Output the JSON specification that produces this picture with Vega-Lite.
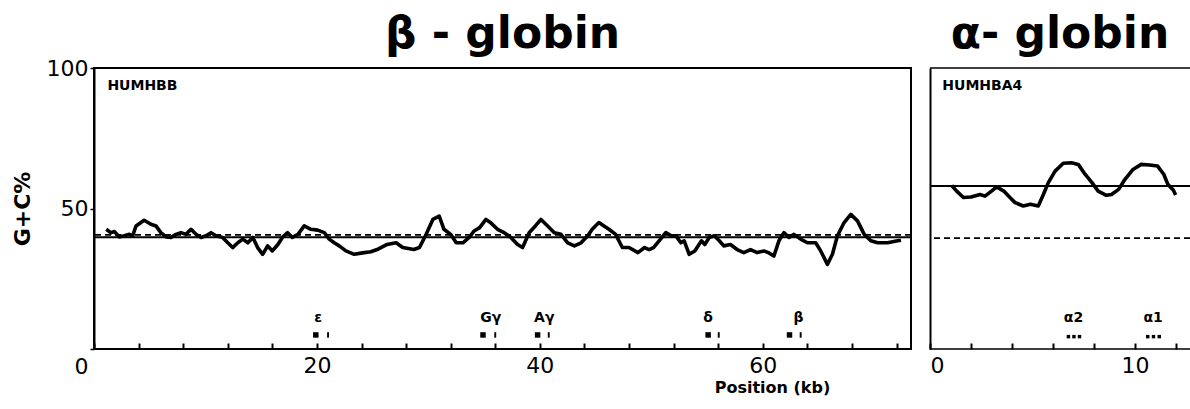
{
  "$schema": "https://vega.github.io/schema/vega-lite/v6.json",
  "padding": {"left": 10, "top": 12, "right": 0, "bottom": 0},
  "background": "white",
  "spacing": 16,
  "config": {
    "font": "DejaVu Sans",
    "view": {"stroke": "black", "strokeWidth": 2},
    "title": {"font": "DejaVu Sans", "fontSize": 44, "fontWeight": "bold", "color": "black", "anchor": "middle", "baseline": "alphabetic"},
    "axis": {"grid": false, "domainColor": "black", "domainWidth": 2, "tickColor": "black", "labelColor": "black", "titleColor": "black", "labelFont": "DejaVu Sans", "titleFont": "DejaVu Sans"}
  },
  "datasets": {
    "hbb": [
      {"kb": 1.1, "gc": 42.6}, {"kb": 1.5, "gc": 41.4}, {"kb": 1.82, "gc": 41.8}, {"kb": 2.27, "gc": 39.9},
      {"kb": 2.72, "gc": 40.3}, {"kb": 3.17, "gc": 40.8}, {"kb": 3.47, "gc": 40.3}, {"kb": 3.77, "gc": 43.8},
      {"kb": 4.5, "gc": 45.8}, {"kb": 5.11, "gc": 44.4}, {"kb": 5.56, "gc": 43.8}, {"kb": 6.0, "gc": 41.4},
      {"kb": 6.46, "gc": 39.9}, {"kb": 6.9, "gc": 39.7}, {"kb": 7.35, "gc": 40.8}, {"kb": 7.8, "gc": 41.4},
      {"kb": 8.25, "gc": 40.8}, {"kb": 8.7, "gc": 42.6}, {"kb": 9.15, "gc": 40.8}, {"kb": 9.6, "gc": 39.7},
      {"kb": 10.05, "gc": 40.3}, {"kb": 10.5, "gc": 41.4}, {"kb": 10.94, "gc": 40.3}, {"kb": 11.54, "gc": 39.7},
      {"kb": 12.0, "gc": 37.8}, {"kb": 12.44, "gc": 36.1}, {"kb": 12.9, "gc": 37.8}, {"kb": 13.35, "gc": 39.1},
      {"kb": 13.8, "gc": 37.8}, {"kb": 14.25, "gc": 39.7}, {"kb": 14.68, "gc": 36.1}, {"kb": 15.13, "gc": 33.7},
      {"kb": 15.58, "gc": 36.7}, {"kb": 16.0, "gc": 34.9}, {"kb": 16.5, "gc": 37.2}, {"kb": 16.9, "gc": 39.7},
      {"kb": 17.37, "gc": 41.4}, {"kb": 17.8, "gc": 39.7}, {"kb": 18.3, "gc": 40.8}, {"kb": 18.86, "gc": 43.8},
      {"kb": 19.46, "gc": 42.6}, {"kb": 20.06, "gc": 42.3}, {"kb": 20.66, "gc": 41.4}, {"kb": 21.1, "gc": 39.1},
      {"kb": 21.55, "gc": 37.8}, {"kb": 22.0, "gc": 36.7}, {"kb": 22.6, "gc": 34.9}, {"kb": 23.35, "gc": 33.7},
      {"kb": 24.1, "gc": 34.2}, {"kb": 24.84, "gc": 34.6}, {"kb": 25.4, "gc": 35.4}, {"kb": 26.3, "gc": 37.2},
      {"kb": 27.1, "gc": 37.8}, {"kb": 27.7, "gc": 36.1}, {"kb": 28.7, "gc": 35.4}, {"kb": 29.2, "gc": 36.1},
      {"kb": 29.8, "gc": 40.8}, {"kb": 30.4, "gc": 46.1}, {"kb": 30.97, "gc": 47.3}, {"kb": 31.4, "gc": 42.6},
      {"kb": 32.0, "gc": 40.8}, {"kb": 32.5, "gc": 37.8}, {"kb": 33.1, "gc": 37.8}, {"kb": 33.66, "gc": 39.7},
      {"kb": 34.1, "gc": 42.0}, {"kb": 34.6, "gc": 43.2}, {"kb": 35.16, "gc": 46.1}, {"kb": 35.6, "gc": 44.9},
      {"kb": 36.2, "gc": 42.6}, {"kb": 36.8, "gc": 41.4}, {"kb": 37.4, "gc": 39.7}, {"kb": 38.0, "gc": 37.2},
      {"kb": 38.45, "gc": 36.1}, {"kb": 39.04, "gc": 41.4}, {"kb": 39.6, "gc": 43.8}, {"kb": 40.1, "gc": 46.1},
      {"kb": 40.7, "gc": 43.8}, {"kb": 41.3, "gc": 41.4}, {"kb": 41.9, "gc": 40.8}, {"kb": 42.5, "gc": 37.8},
      {"kb": 43.1, "gc": 36.7}, {"kb": 43.7, "gc": 37.8}, {"kb": 44.3, "gc": 40.3}, {"kb": 44.7, "gc": 42.6},
      {"kb": 45.3, "gc": 45.0}, {"kb": 45.75, "gc": 43.8}, {"kb": 46.2, "gc": 42.6}, {"kb": 46.8, "gc": 40.8},
      {"kb": 47.4, "gc": 36.1}, {"kb": 48.0, "gc": 36.1}, {"kb": 48.8, "gc": 34.3}, {"kb": 49.4, "gc": 36.1},
      {"kb": 49.8, "gc": 35.4}, {"kb": 50.2, "gc": 36.1}, {"kb": 50.7, "gc": 38.5}, {"kb": 51.3, "gc": 41.4},
      {"kb": 51.8, "gc": 40.3}, {"kb": 52.2, "gc": 40.3}, {"kb": 52.65, "gc": 37.8}, {"kb": 52.95, "gc": 38.5},
      {"kb": 53.4, "gc": 33.7}, {"kb": 53.9, "gc": 34.9}, {"kb": 54.5, "gc": 38.5}, {"kb": 54.8, "gc": 37.2},
      {"kb": 55.2, "gc": 39.7}, {"kb": 55.65, "gc": 40.3}, {"kb": 56.1, "gc": 38.5}, {"kb": 56.5, "gc": 36.7},
      {"kb": 57.1, "gc": 37.2}, {"kb": 57.7, "gc": 35.4}, {"kb": 58.3, "gc": 34.3}, {"kb": 58.9, "gc": 35.4},
      {"kb": 59.5, "gc": 34.3}, {"kb": 60.1, "gc": 34.9}, {"kb": 60.5, "gc": 34.3}, {"kb": 61.0, "gc": 33.1},
      {"kb": 61.45, "gc": 38.5}, {"kb": 61.9, "gc": 41.4}, {"kb": 62.35, "gc": 39.7}, {"kb": 62.8, "gc": 40.8},
      {"kb": 63.4, "gc": 39.1}, {"kb": 64.0, "gc": 37.8}, {"kb": 64.75, "gc": 37.8}, {"kb": 65.2, "gc": 34.9},
      {"kb": 65.8, "gc": 30.1}, {"kb": 66.25, "gc": 33.7}, {"kb": 66.7, "gc": 40.3}, {"kb": 67.3, "gc": 45.0},
      {"kb": 67.9, "gc": 47.9}, {"kb": 68.5, "gc": 45.6}, {"kb": 69.1, "gc": 40.8}, {"kb": 69.7, "gc": 38.5},
      {"kb": 70.3, "gc": 37.8}, {"kb": 71.2, "gc": 37.8}, {"kb": 72.1, "gc": 38.5}, {"kb": 72.4, "gc": 38.7}
    ],
    "hba": [
      {"kb": 1.06, "gc": 58.2}, {"kb": 1.3, "gc": 56.2}, {"kb": 1.63, "gc": 53.9}, {"kb": 2.0, "gc": 54.1},
      {"kb": 2.44, "gc": 55.0}, {"kb": 2.68, "gc": 54.4}, {"kb": 3.0, "gc": 56.2}, {"kb": 3.25, "gc": 57.7},
      {"kb": 3.6, "gc": 56.2}, {"kb": 3.9, "gc": 53.9}, {"kb": 4.15, "gc": 52.1}, {"kb": 4.55, "gc": 50.9},
      {"kb": 4.9, "gc": 51.5}, {"kb": 5.28, "gc": 50.9}, {"kb": 5.53, "gc": 55.0}, {"kb": 5.77, "gc": 59.2},
      {"kb": 6.1, "gc": 63.3}, {"kb": 6.5, "gc": 66.1}, {"kb": 6.9, "gc": 66.3}, {"kb": 7.23, "gc": 65.7},
      {"kb": 7.56, "gc": 62.2}, {"kb": 7.9, "gc": 59.2}, {"kb": 8.2, "gc": 56.2}, {"kb": 8.6, "gc": 54.7},
      {"kb": 8.85, "gc": 55.0}, {"kb": 9.2, "gc": 56.8}, {"kb": 9.5, "gc": 60.3}, {"kb": 9.9, "gc": 63.9},
      {"kb": 10.3, "gc": 65.7}, {"kb": 10.7, "gc": 65.5}, {"kb": 11.1, "gc": 65.1}, {"kb": 11.4, "gc": 62.2},
      {"kb": 11.6, "gc": 58.6}, {"kb": 11.87, "gc": 56.5}, {"kb": 11.98, "gc": 54.8}
    ],
    "refB": [
      {"gc": 40.6, "kind": "dashed"}, {"gc": 39.8, "kind": "solid"}
    ],
    "refA": [
      {"gc": 39.5, "kind": "dashed"}, {"gc": 58.0, "kind": "solid"}, {"gc": 100, "kind": "frame"}, {"gc": 0, "kind": "frame"}
    ],
    "tagB": [{"kb": 1.2, "gc": 93.6, "label": "HUMHBB"}],
    "tagA": [{"kb": 0.6, "gc": 93.6, "label": "HUMHBA4"}],
    "exonsB": [
      {"kb": 19.9, "y": 5, "part": "a"}, {"kb": 21.0, "y": 5, "part": "b"},
      {"kb": 34.9, "y": 5, "part": "a"}, {"kb": 36.0, "y": 5, "part": "b"},
      {"kb": 39.8, "y": 5, "part": "a"}, {"kb": 40.8, "y": 5, "part": "b"},
      {"kb": 55.1, "y": 5, "part": "a"}, {"kb": 56.05, "y": 5, "part": "b"},
      {"kb": 62.4, "y": 5, "part": "a"}, {"kb": 63.4, "y": 5, "part": "b"}
    ],
    "genesB": [
      {"kb": 20.1, "y": 11, "gene": "ε"}, {"kb": 35.6, "y": 11, "gene": "Gγ"},
      {"kb": 40.4, "y": 11, "gene": "Aγ"}, {"kb": 55.1, "y": 11, "gene": "δ"},
      {"kb": 63.2, "y": 11, "gene": "β"}
    ],
    "exonsA": [
      {"kb": 6.75, "y": 4.4}, {"kb": 7.02, "y": 4.4}, {"kb": 7.29, "y": 4.4},
      {"kb": 10.62, "y": 4.4}, {"kb": 10.9, "y": 4.4}, {"kb": 11.18, "y": 4.4}
    ],
    "genesA": [
      {"kb": 7.0, "y": 11, "gene": "α2"}, {"kb": 10.88, "y": 11, "gene": "α1"}
    ]
  },
  "hconcat": [
    {
      "width": 817,
      "height": 281,
      "title": {"text": "β - globin", "offset": 0},
      "layer": [
        {
          "data": {"name": "refB"},
          "mark": {"type": "rule", "color": "black"},
          "encoding": {
            "y": {"field": "gc", "type": "quantitative", "scale": {"domain": [0, 100], "nice": false}},
            "strokeDash": {"field": "kind", "type": "nominal", "scale": {"domain": ["solid", "dashed"], "range": [[1, 0], [6, 4]]}, "legend": null},
            "strokeWidth": {"field": "kind", "type": "nominal", "scale": {"domain": ["solid", "dashed"], "range": [2, 1.5]}, "legend": null}
          }
        },
        {
          "data": {"name": "hbb"},
          "mark": {"type": "line", "color": "black", "strokeWidth": 3.6, "strokeJoin": "round"},
          "encoding": {
            "x": {"field": "kb", "type": "quantitative", "scale": {"domain": [0, 73.3], "nice": false, "zero": false},
              "axis": {"values": [0,1,2,3,4,5,6,7,8,9,10,11,12,13,14,15,16,17,18,19,20,21,22,23,24,25,26,27,28,29,30,31,32,33,34,35,36,37,38,39,40,41,42,43,44,45,46,47,48,49,50,51,52,53,54,55,56,57,58,59,60,61,62,63,64,65,66,67,68,69,70,71,72,73],
                "ticks": true, "zindex": 1, "domain": false, "offset": -6, "tickSize": 6, "tickWidth": 2, "labelPadding": 6, "labelFontSize": 22,
                "labelExpr": "(datum.value % 20 === 0 && datum.value > 0) ? datum.label : ''",
                "title": "Position (kb)", "titleFontSize": 16, "titleFontWeight": "bold", "titleX": 678, "titleY": 44, "titleAlign": "center", "titleBaseline": "middle"}},
            "y": {"field": "gc", "type": "quantitative", "scale": {"domain": [0, 100], "nice": false},
              "axis": {"values": [0, 50, 100], "tickSize": 4, "tickWidth": 1.5, "labelFontSize": 22, "labelPadding": 2,
                "labelOffset": {"condition": {"test": "datum.value === 0", "value": 17}, "value": 0},
                "title": "G+C%", "titleFontSize": 22, "titleFontWeight": "bold", "titlePadding": 12}}
          }
        },
        {
          "data": {"name": "exonsB"},
          "mark": {"type": "point", "filled": true, "color": "black", "opacity": 1},
          "encoding": {
            "x": {"field": "kb", "type": "quantitative"},
            "y": {"field": "y", "type": "quantitative"},
            "shape": {"field": "part", "type": "nominal", "scale": {"domain": ["a", "b"], "range": ["square", "M-0.35,-1L0.35,-1L0.35,1L-0.35,1Z"]}, "legend": null},
            "size": {"field": "part", "type": "nominal", "scale": {"domain": ["a", "b"], "range": [30, 30]}, "legend": null}
          }
        },
        {
          "data": {"name": "genesB"},
          "mark": {"type": "text", "color": "black", "fontSize": 14, "fontWeight": "bold", "baseline": "middle"},
          "encoding": {
            "x": {"field": "kb", "type": "quantitative"},
            "y": {"field": "y", "type": "quantitative"},
            "text": {"field": "gene"}
          }
        },
        {
          "data": {"name": "tagB"},
          "mark": {"type": "text", "color": "black", "fontSize": 14, "fontWeight": "bold", "font": "DejaVu Sans", "align": "left", "baseline": "middle"},
          "encoding": {
            "x": {"field": "kb", "type": "quantitative"},
            "y": {"field": "gc", "type": "quantitative"},
            "text": {"field": "label"}
          }
        }
      ]
    },
    {
      "width": 260,
      "height": 281,
      "title": {"text": "α- globin", "offset": 10},
      "view": {"stroke": null},
      "layer": [
        {
          "data": {"name": "refA"},
          "mark": {"type": "rule", "color": "black"},
          "encoding": {
            "y": {"field": "gc", "type": "quantitative", "scale": {"domain": [0, 100], "nice": false},
              "axis": {"labels": false, "ticks": false, "title": null}},
            "strokeDash": {"field": "kind", "type": "nominal", "scale": {"domain": ["solid", "dashed", "frame"], "range": [[1, 0], [6, 4], [1, 0]]}, "legend": null},
            "strokeWidth": {"field": "kind", "type": "nominal", "scale": {"domain": ["solid", "dashed", "frame"], "range": [2, 1.5, 2]}, "legend": null}
          }
        },
        {
          "data": {"name": "hba"},
          "mark": {"type": "line", "color": "black", "strokeWidth": 3.6, "strokeJoin": "round"},
          "encoding": {
            "x": {"field": "kb", "type": "quantitative", "scale": {"domain": [0, 12.68], "nice": false, "zero": false},
              "axis": {"values": [0,1,2,3,4,5,6,7,8,9,10,11,12], "ticks": true, "zindex": 1, "domain": false, "offset": -6, "tickSize": 6, "tickWidth": 2, "labelPadding": 6, "labelFontSize": 22,
                "labelExpr": "(datum.value % 10 === 0) ? datum.label : ''", "title": null}},
            "y": {"field": "gc", "type": "quantitative"}
          }
        },
        {
          "data": {"name": "exonsA"},
          "mark": {"type": "point", "filled": true, "color": "black", "opacity": 1, "shape": "square", "size": 12},
          "encoding": {
            "x": {"field": "kb", "type": "quantitative"},
            "y": {"field": "y", "type": "quantitative"}
          }
        },
        {
          "data": {"name": "genesA"},
          "mark": {"type": "text", "color": "black", "fontSize": 14, "fontWeight": "bold", "baseline": "middle"},
          "encoding": {
            "x": {"field": "kb", "type": "quantitative"},
            "y": {"field": "y", "type": "quantitative"},
            "text": {"field": "gene"}
          }
        },
        {
          "data": {"name": "tagA"},
          "mark": {"type": "text", "color": "black", "fontSize": 14, "fontWeight": "bold", "font": "DejaVu Sans", "align": "left", "baseline": "middle"},
          "encoding": {
            "x": {"field": "kb", "type": "quantitative"},
            "y": {"field": "gc", "type": "quantitative"},
            "text": {"field": "label"}
          }
        }
      ]
    }
  ]
}
